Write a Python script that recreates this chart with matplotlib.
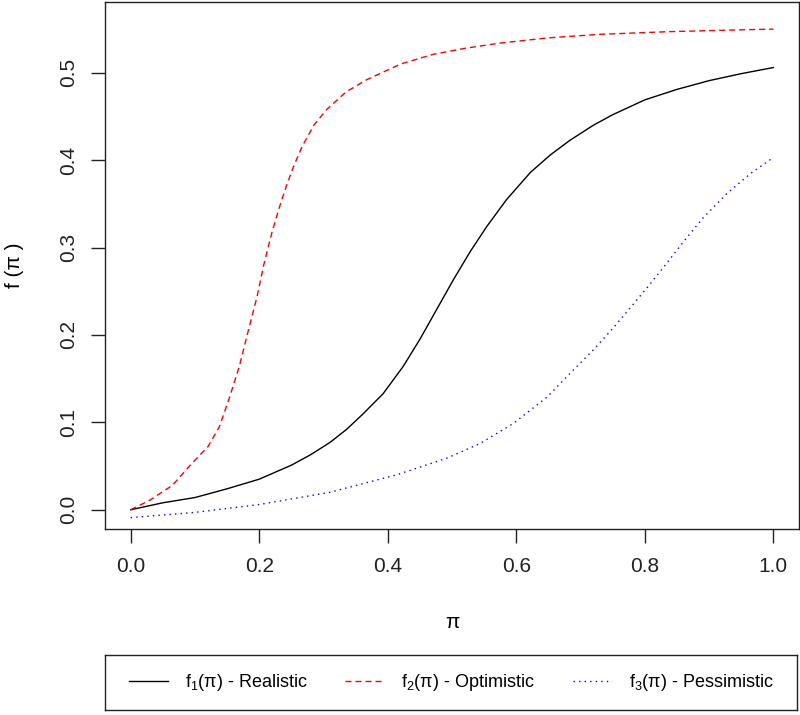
import matplotlib
matplotlib.use('Agg')
import matplotlib.pyplot as plt
from matplotlib.lines import Line2D

# values
pi_realistic = [0, 0.05, 0.1, 0.15, 0.2, 0.25, 0.28, 0.31, 0.336, 0.362, 0.393, 0.424,
                0.45, 0.476, 0.502, 0.528, 0.554, 0.585, 0.622, 0.653, 0.684, 0.72,
                0.75, 0.8, 0.85, 0.9, 0.95, 1.0]
f_realistic = [0, 0.008, 0.014, 0.024, 0.035, 0.051, 0.063, 0.077, 0.092, 0.110, 0.133,
               0.164, 0.195, 0.229, 0.263, 0.295, 0.324, 0.355, 0.386, 0.406, 0.423,
               0.440, 0.452, 0.469, 0.481, 0.491, 0.499, 0.506]

pi_optimistic = [0, 0.03, 0.065, 0.095, 0.12, 0.138, 0.154, 0.169, 0.182, 0.197, 0.207,
                 0.22, 0.233, 0.243, 0.253, 0.267, 0.285, 0.305, 0.335, 0.367, 0.42,
                 0.47, 0.52, 0.575, 0.65, 0.73, 0.835, 0.94, 1.0]
f_optimistic = [0, 0.011, 0.028, 0.053, 0.072, 0.095, 0.129, 0.164, 0.202, 0.245, 0.280,
                0.318, 0.350, 0.372, 0.392, 0.416, 0.440, 0.458, 0.478, 0.492, 0.510,
                0.521, 0.528, 0.534, 0.540, 0.544, 0.547, 0.549, 0.550]

pi_pessimistic = [0, 0.1, 0.2, 0.31, 0.414, 0.492, 0.544, 0.596, 0.648, 0.689, 0.720,
                  0.752, 0.783, 0.809, 0.835, 0.866, 0.892, 0.928, 0.965, 1.0]
f_pessimistic = [-0.009, -0.003, 0.006, 0.020, 0.040, 0.059, 0.076, 0.099, 0.129, 0.160,
                 0.183, 0.209, 0.236, 0.259, 0.283, 0.312, 0.335, 0.362, 0.385, 0.403]

labels = ['f$_1$(π) - Realistic', 'f$_2$(π) - Optimistic', 'f$_3$(π) - Pessimistic']
x_ticks = [0.0, 0.2, 0.4, 0.6, 0.8, 1.0]
y_ticks = [0.0, 0.1, 0.2, 0.3, 0.4, 0.5]

plt.rcParams['font.family'] = ['Liberation Sans', 'DejaVu Sans']
plt.rcParams['mathtext.fontset'] = 'custom'
plt.rcParams['mathtext.rm'] = 'Liberation Sans'
plt.rcParams['mathtext.it'] = 'Liberation Sans:italic'
plt.rcParams['mathtext.default'] = 'regular'

fig = plt.figure(figsize=(8, 7.15), dpi=100)
ax = fig.add_axes([105 / 800, 1 - 529 / 715, 694 / 800, 527 / 715])

dash = (4.3, 2.9)
dot = (1.0, 3.0)
ax.plot(pi_realistic, f_realistic, color='black', lw=1.0)
ax.plot(pi_optimistic, f_optimistic, color='red', lw=1.0, dashes=dash)
ax.plot(pi_pessimistic, f_pessimistic, color='blue', lw=1.0, dashes=dot)

ax.set_xlim(-0.04, 1.04)
ax.set_ylim(-0.022, 0.581)
ax.set_xticks(x_ticks)
ax.set_xticklabels([f'{v:.1f}' for v in x_ticks])
ax.set_yticks(y_ticks)
ax.set_yticklabels([f'{v:.1f}' for v in y_ticks], rotation=90, va='center')
ax.tick_params(direction='out', length=10, width=1, labelsize=15, colors='#222222')
ax.tick_params(axis='x', pad=10)
ax.tick_params(axis='y', pad=9)
for s in ax.spines.values():
    s.set_linewidth(1.0)
    s.set_color('#222222')

fig.text(452 / 800, 1 - 622 / 715, 'π', ha='center', va='center', fontsize=15)
fig.text(15 / 800, 1 - 265 / 715, 'f (π )', ha='center', va='center', fontsize=15, rotation=90)

# legend box under the plot
lax = fig.add_axes([105 / 800, 5 / 715, 692 / 800, 55 / 715])
lax.set_xticks([])
lax.set_yticks([])
for s in lax.spines.values():
    s.set_linewidth(1.0)
    s.set_color('#222222')
handles = [Line2D([], [], color='black', lw=1.0),
           Line2D([], [], color='red', lw=1.0, dashes=dash),
           Line2D([], [], color='blue', lw=1.0, dashes=dot)]
lax.legend(handles, labels, ncol=3, loc='center', frameon=False, fontsize=13,
           handlelength=2.15, handletextpad=0.95, columnspacing=2.1)

fig.savefig('out.png', dpi=100)
